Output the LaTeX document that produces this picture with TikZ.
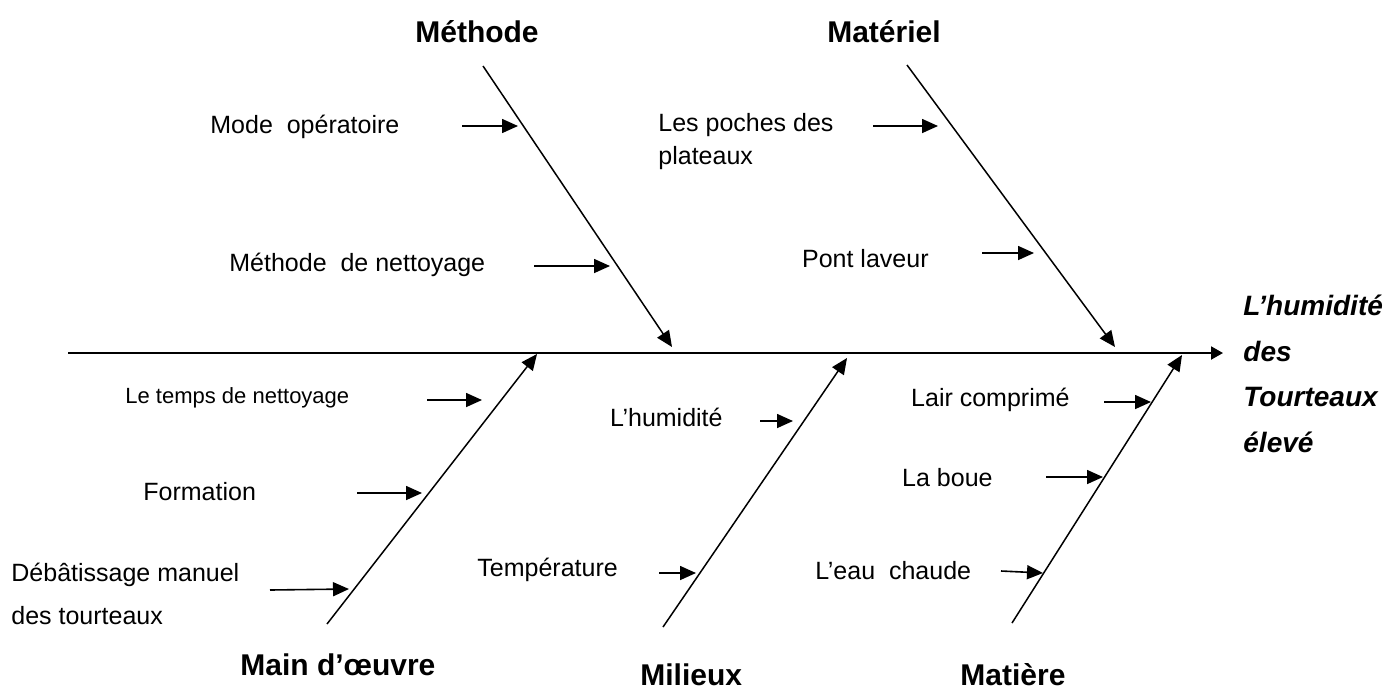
\documentclass[tikz,border=0pt]{standalone}
\usepackage{fontspec}
\setmainfont{Liberation Sans}
\usetikzlibrary{arrows.meta}

\begin{document}
\begin{tikzpicture}[x=0.5pt, y=-0.5pt,
  spine/.style={line width=1pt, -{Triangle[length=6pt,width=6.5pt]}},
  branch/.style={line width=0.75pt, -{Triangle[length=8pt,width=7pt]}},
  cause/.style={line width=0.8pt, -{Triangle[length=8pt,width=7pt]}},
  cat/.style={font=\fontsize{15}{18}\selectfont\bfseries, inner sep=0pt},
  lbl/.style={font=\fontsize{12.5}{15}\selectfont, inner sep=0pt}]
\useasboundingbox (0,0) rectangle (1395,691);

% spine and effect
\coordinate (tail) at (68,353);
\coordinate (head) at (1223,353);
\draw[spine] (tail) -- (head);
\node[anchor=base west, inner sep=0pt, align=left,
  font=\fontsize{14}{22.7}\selectfont\bfseries\itshape] (effect) at (1243,452)
  {L’humidité\\des\\Tourteaux\\élevé};

% main branches
\coordinate (meth-top) at (483,66);   \coordinate (meth-tip) at (672,347);
\coordinate (mat-top) at (907,65);    \coordinate (mat-tip) at (1115,347);
\coordinate (main-bot) at (327,624);  \coordinate (main-tip) at (537,354);
\coordinate (mil-bot) at (663,627);   \coordinate (mil-tip) at (847,358);
\coordinate (matr-bot) at (1012,623); \coordinate (matr-tip) at (1182,355);
\foreach \a/\b in {meth-top/meth-tip, mat-top/mat-tip, main-bot/main-tip, mil-bot/mil-tip, matr-bot/matr-tip}
  \draw[branch] (\a) -- (\b);

% categories
\node[cat, anchor=base] (methode) at (477,42) {Méthode};
\node[cat, anchor=base] (materiel) at (884,42) {Matériel};
\node[cat, anchor=base west] (mainoeuvre) at (240,675) {Main d’œuvre};
\node[cat, anchor=base west] (milieux) at (640,685) {Milieux};
\node[cat, anchor=base west] (matiere) at (960,685) {Matière};

% causes
\node[lbl, anchor=base west] (mode) at (210,133) {Mode~ opératoire};
\node[lbl, anchor=base west] (nett) at (229,271) {Méthode~ de nettoyage};
\node[lbl, anchor=base west, align=left, font=\fontsize{12.5}{16.5}\selectfont] (poches) at (658,164) {Les poches des\\plateaux};
\node[lbl, anchor=base east] (pont) at (929,267) {Pont laveur};
\node[lbl, anchor=base west, font=\fontsize{11}{13}\selectfont] (temps) at (125,403) {Le temps de nettoyage};
\node[lbl, anchor=base west] (form) at (143,500) {Formation};
\node[lbl, anchor=base west, align=left, font=\fontsize{12.5}{21.5}\selectfont] (debat) at (11,624) {Débâtissage manuel\\des tourteaux};
\node[lbl, anchor=base east] (humid) at (723,426) {L’humidité};
\node[lbl, anchor=base west] (temp) at (477,576) {Température};
\node[lbl, anchor=base east] (air) at (1070,406) {Lair comprimé};
\node[lbl, anchor=base east] (boue) at (993,486) {La boue};
\node[lbl, anchor=base west] (eau) at (815,579) {L’eau~ chaude};

% cause arrows
\foreach \n/\xa/\ya/\xb/\yb in {mode/462/126/518/126, nett/534/266/610/266,
    poches/873/126/938/126, pont/982/253/1034/253,
    temps/427/400/482/400, form/357/493/422/493, debat/270/590/349/589,
    humid/760/421/793/421, temp/659/573/696/573,
    air/1104/402/1151/402, boue/1046/477/1103/477, eau/1001/571/1043/573}{
  \coordinate (\n-s) at (\xa,\ya);
  \coordinate (\n-e) at (\xb,\yb);
  \draw[cause] (\n-s) -- (\n-e);
}
\end{tikzpicture}
\end{document}
